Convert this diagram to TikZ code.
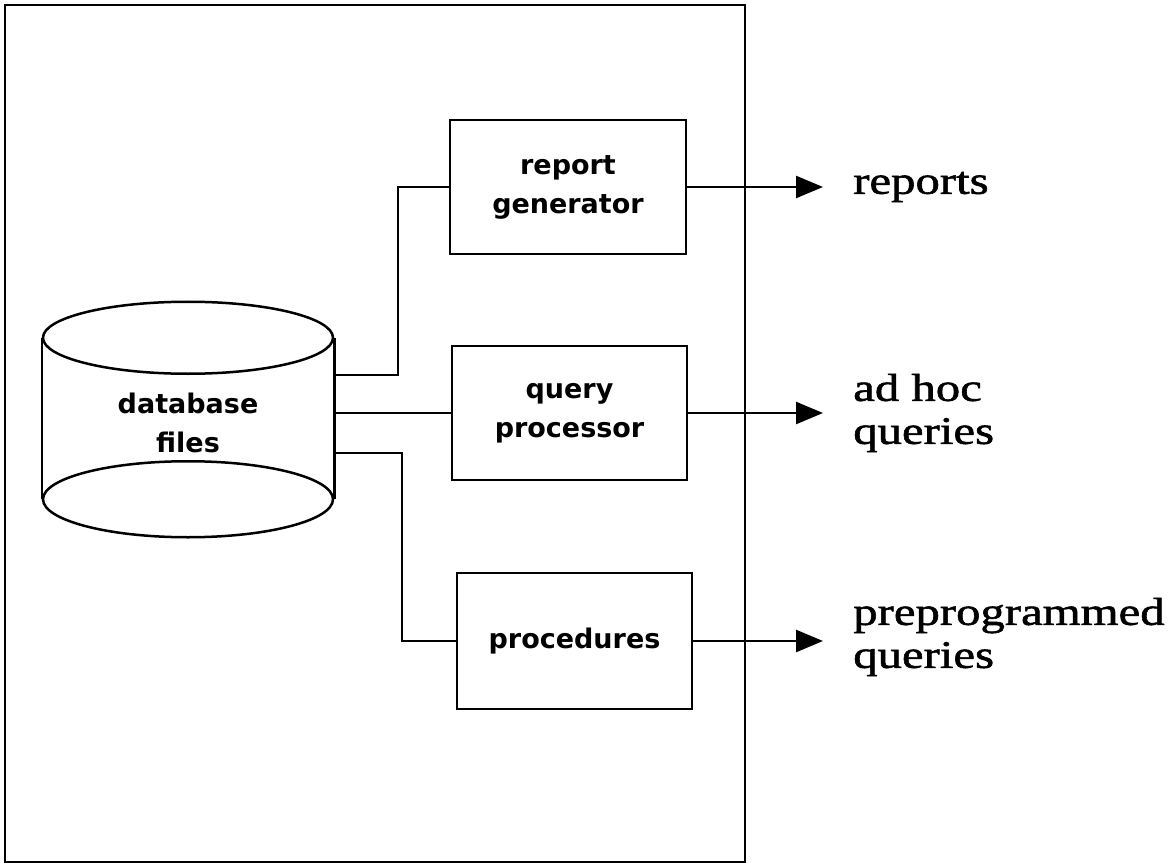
\documentclass[tikz,border=0pt]{standalone}
\usepackage{fontspec}
\usetikzlibrary{arrows.meta}
\newfontfamily\boxfont{DejaVu Sans}
\newfontfamily\labfont[FakeStretch=1.25,FakeBold=1.5]{Liberation Serif}
\begin{document}
\begin{tikzpicture}[x=1pt,y=-1pt,line width=2.5pt,
  boxst/.style={draw,rectangle,inner sep=0pt,align=center,
    font=\boxfont\bfseries\fontsize{27}{39}\selectfont},
  lab/.style={anchor=west,align=left,inner sep=0pt,
    font=\labfont\fontsize{39}{43}\selectfont},
  arr/.style={-{Triangle[length=27pt,width=22pt]}}]
\useasboundingbox (0,0) rectangle (1174,866);
% frame
\draw[line width=2.7pt] (5,5) rectangle (745,862);
% database cylinder (text centred a little below the shape's middle)
\node[rectangle,inner sep=0pt,minimum width=290pt,minimum height=159pt,align=center,
  font=\boxfont\bfseries\fontsize{27}{39}\selectfont] (db) at (188,422.5) {database\\files};
\draw ([yshift=4pt]db.north) ellipse [x radius=145pt, y radius=36pt];
\draw ([yshift=4pt]db.south) ellipse [x radius=145pt, y radius=38pt];
\draw[line cap=butt] ([yshift=4pt]db.north west) -- ([yshift=4pt]db.south west);
\draw[line cap=butt] ([yshift=4pt]db.north east) -- ([yshift=4pt]db.south east);
% boxes
\node[boxst,minimum width=236pt,minimum height=134pt] (rg) at (568,187) {report\\generator};
\node[boxst,minimum width=235pt,minimum height=134pt] (qp) at (569.5,413) {query\\processor};
\node[boxst,minimum width=235pt,minimum height=136pt] (pr) at (574.5,641) {procedures};
% connectors
\coordinate (c1) at (333,375);
\coordinate (c3) at (333,453);
\draw (c1) -- ++(65,0) |- (rg.west);
\draw (db.east |- qp.west) -- (qp.west);
\draw (c3) -- ++(69,0) |- (pr.west);
% outputs
\coordinate (tip) at (823,0);
\node[lab] (rep) at (852,187) {reports};
\node[lab] (adh) at (852,413) {ad hoc\\queries};
\node[lab] (pre) at (852,637) {preprogrammed\\queries};
\draw[arr] (rg.east) -- (rg.east -| tip);
\draw[arr] (qp.east) -- (qp.east -| tip);
\draw[arr] (pr.east) -- (pr.east -| tip);
\end{tikzpicture}
\end{document}
